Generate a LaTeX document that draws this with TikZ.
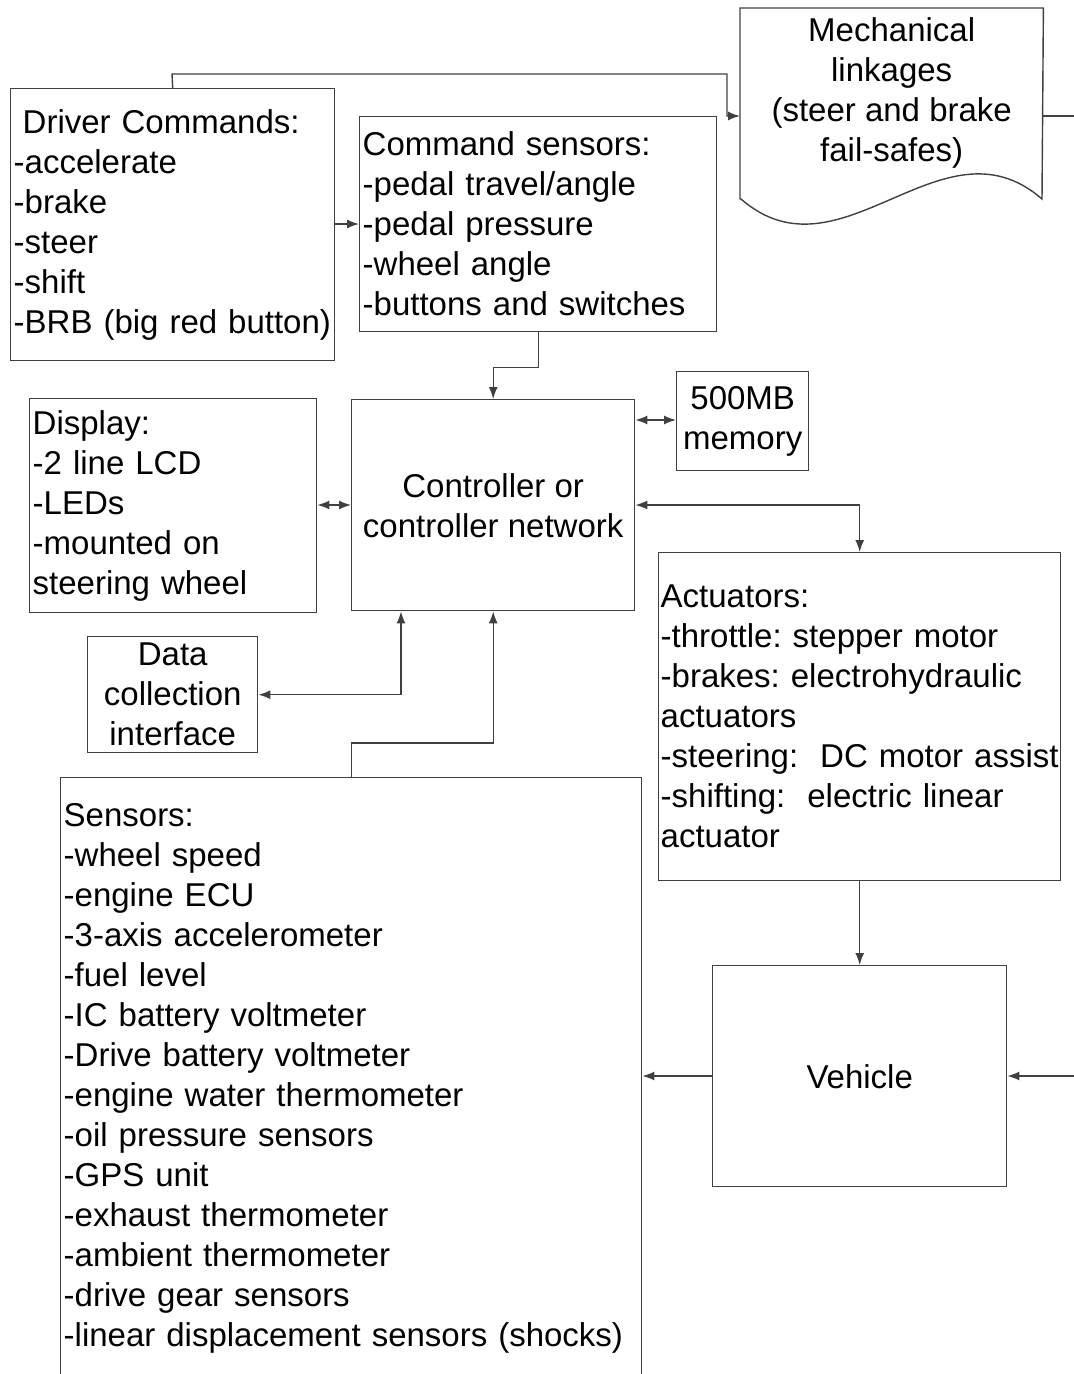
\documentclass[tikz,border=0pt]{standalone}
\usepackage{fontspec}
\setmainfont{Liberation Sans}
\usetikzlibrary{arrows.meta}
\tikzset{
  ln/.style={draw=black!75, line width=1.4pt},
  box/.style={ln, anchor=north west, inner xsep=3pt, inner ysep=0pt,
    font=\fontsize{33}{40}\selectfont},
  lbox/.style={box, align=left},
  cbox/.style={box, align=center},
  arr/.style={ln, -{Latex[length=12pt,width=9pt]}},
  darr/.style={ln, {Latex[length=12pt,width=9pt]}-{Latex[length=12pt,width=9pt]}},
}
\begin{document}
\begin{tikzpicture}[x=1pt,y=-1pt]
\useasboundingbox (0,0) rectangle (1074,1374);
% boxes
\node[lbox, text width=318pt, minimum height=272pt] (drv) at (10,88)
  {\hspace*{9pt}Driver~Commands:\\-accelerate\\-brake\\-steer\\-shift\\-BRB~(big~red~button)};
\node[lbox, text width=351pt, minimum height=215pt] (cs) at (359,116)
  {Command~sensors:\\-pedal~travel/angle\\-pedal~pressure\\-wheel~angle\\-buttons~and~switches};
\node[cbox, draw=none, minimum width=302pt, minimum height=168pt] (mech) at (740,8)
  {Mechanical\\linkages\\(steer~and~brake\\fail-safes)};
\draw[ln] (mech.south west |- 0,199) -- (mech.north west) -- (mech.north east) -- (1042,199)
  .. controls (942,112) and (841,286) .. (741,199) -- cycle;
\node[cbox, minimum width=283pt, minimum height=211pt] (ctrl) at (351,399)
  {Controller~or\\controller~network};
\node[cbox, minimum width=132pt, minimum height=99pt] (mem) at (676,371)
  {500MB\\memory};
\node[lbox, text width=281pt, minimum height=214pt] (disp) at (29,398)
  {Display:\\-2~line~LCD\\-LEDs\\-mounted~on\\steering~wheel};
\node[cbox, minimum width=170pt, minimum height=116pt] (data) at (87,636)
  {Data\\collection\\interface};
\node[lbox, inner xsep=2pt, text width=398pt, minimum height=328pt] (act) at (658,552)
  {Actuators:\\-throttle:~stepper~motor\\-brakes:~electrohydraulic\\actuators\\-steering:\ \ DC~motor~assist\\-shifting:\ \ electric~linear\\actuator};
\node[cbox, minimum width=294pt, minimum height=221pt] (veh) at (712,965)
  {Vehicle};
\node[lbox, text width=575pt, minimum height=601pt] (sens) at (60,777)
  {Sensors:\\-wheel~speed\\-engine~ECU\\-3-axis~accelerometer\\-fuel~level\\-IC~battery~voltmeter\\-Drive~battery~voltmeter\\-engine~water~thermometer\\-oil~pressure~sensors\\-GPS~unit\\-exhaust~thermometer\\-ambient~thermometer\\-drive~gear~sensors\\-linear~displacement~sensors~(shocks)};
% free ends on the right edge
\coordinate (rtop) at (1074,116);
\coordinate (rveh) at (1074,1076);
% connectors
\draw[arr] (drv.north) -- (172,74) -- (727,74) -- (727,116) -- (mech.west |- cs.north);
\draw[ln] (mech.east |- cs.north) -- (rtop);
\draw[arr] (drv.east |- 0,224) -- (cs.west |- 0,224);
\draw[arr] (cs.south) -- ++(0,35) -| (ctrl.north);
\draw[darr] (ctrl.east |- 0,420) -- (mem.west |- 0,420);
\draw[darr] (disp.east |- 0,505) -- (ctrl.west |- 0,505);
\draw[darr] (ctrl.east |- 0,505) -| (act.north);
\draw[darr] (data.east) -| (ctrl.south -| 401,0);
\draw[arr] (sens.north) -- ++(0,-34) -| (ctrl.south);
\draw[arr] (act.south) -- (veh.north);
\draw[arr] (veh.west |- 0,1076) -- (sens.east |- 0,1076);
\draw[arr] (rveh) -- (veh.east |- rveh);
\end{tikzpicture}
\end{document}
